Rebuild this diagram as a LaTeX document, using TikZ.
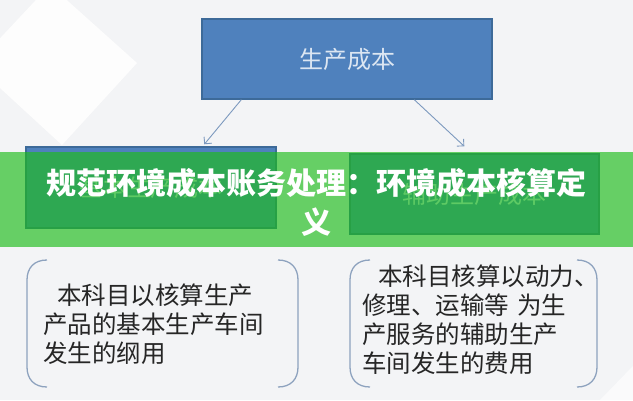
\documentclass[tikz,border=0pt]{standalone}
\usepackage{fontspec}
\newfontfamily\cjk{Noto Sans CJK SC}
\usetikzlibrary{arrows.meta}
\definecolor{bgc}{HTML}{F3F4F6}
\definecolor{boxblue}{HTML}{4F81BD}
\definecolor{boxedge}{HTML}{3D6A99}
\definecolor{boxtext}{HTML}{DCE6F2}
\definecolor{arrowc}{HTML}{7C99BE}
\definecolor{bannerc}{RGB}{29,189,27}
\definecolor{bracketc}{HTML}{8DA2BE}
\definecolor{bodytext}{HTML}{262626}
\tikzset{
  bluebox/.style={draw=boxedge, line width=1.4pt, fill=boxblue, inner sep=0pt,
    text=boxtext, font=\cjk\fontsize{24}{28}\selectfont},
  linkarrow/.style={draw=arrowc, line width=0.9pt, -{Straight Barb[length=5pt,width=10pt]}},
  bracketline/.style={draw=bracketc, line width=1.3pt},
  bodytextstyle/.style={text=bodytext, inner sep=0pt, align=left, anchor=west,
    font=\cjk\fontsize{24.5}{29}\selectfont},
  bannertext/.style={text=white, inner sep=0pt, align=center,
    font=\cjk\bfseries\fontsize{30}{39}\selectfont}
}
\begin{document}
\begin{tikzpicture}[x=1pt,y=-1pt]
\useasboundingbox (0,0) rectangle (633,400);
% background
\fill[bgc] (0,0) rectangle (633,400);
\fill[white, opacity=0.85] (50,-15) -- (137,63) -- (62,145) -- (-25,65) -- cycle;
\fill[white, opacity=0.6] (600,400) -- (633,366) -- (633,400) -- cycle;
% boxes
\node[bluebox, minimum width=290pt, minimum height=80pt] (top) at (347,59) {生产成本};
\node[bluebox, minimum width=250pt, minimum height=81pt] (lbox) at (151,187.5) {基本生产成本};
\node[bluebox, minimum width=249pt, minimum height=80pt] (rbox) at (474.5,194) {辅助生产成本};
% connectors
\draw[linkarrow] ([xshift=40pt]top.south west) -- ([xshift=179pt,yshift=2pt]lbox.north west);
\draw[linkarrow] ([xshift=213pt]top.south west) -- ([xshift=115pt,yshift=7pt]rbox.north west);
% banner
\fill[bannerc, opacity=0.66] (0,152) rectangle (633,247);
\node[bannertext, text width=600pt] (title) at (316.5,202.5) {规范环境成本账务处理：环境成本核算定\\义};
% bracket pairs
\draw[bracketline] (47,260) .. controls (34,260) and (27,268) .. (27,280) -- (27,367)
  .. controls (27,379) and (34,387) .. (47,387);
\draw[bracketline] (278,260) .. controls (291,260) and (298,268) .. (298,280) -- (298,367)
  .. controls (298,379) and (291,387) .. (278,387);
\draw[bracketline] (370,260) .. controls (357,260) and (350,268) .. (350,280) -- (350,367)
  .. controls (350,379) and (357,387) .. (370,387);
\draw[bracketline] (577,260) .. controls (590,260) and (597,268) .. (597,280) -- (597,367)
  .. controls (597,379) and (590,387) .. (577,387);
% body texts
\node[bodytextstyle] (ltext) at (43,324) {\hspace*{14pt}本科目以核算生产\\产品的基本生产车间\\发生的纲用};
\node[bodytextstyle] (rtext) at (362,320) {\hspace*{16pt}本科目核算以动力、\\修理、运输等\hspace{8pt}为生\\产服务的辅助生产\\车间发生的费用};
\end{tikzpicture}
\end{document}
